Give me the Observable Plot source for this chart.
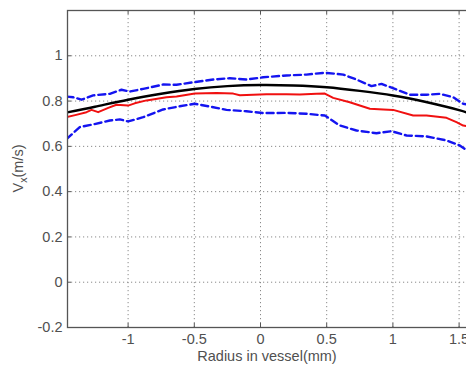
<!DOCTYPE html>
<html>
<head>
<meta charset="utf-8">
<script src="https://cdn.jsdelivr.net/npm/d3@7"></script>
<script src="https://cdn.jsdelivr.net/npm/@observablehq/plot@0.6"></script>
<style>
  html, body { margin: 0; padding: 0; background: #fff; overflow: hidden; }
  #chart svg { display: block; overflow: hidden; max-width: none !important; }
</style>
</head>
<body>
<div id="chart"></div>
<script>
// Velocity profile across the vessel radius: fitted profile, measured mean and its bounds.
const xTicks = [-1, -0.5, 0, 0.5, 1, 1.5];
const xTickLabels = ["-1", "-0.5", "0", "0.5", "1", "1.5"];
const yTicks = [-0.2, 0, 0.2, 0.4, 0.6, 0.8, 1];
const yTickLabels = ["-0.2", "0", "0.2", "0.4", "0.6", "0.8", "1"];

// fitted (black) profile
const rFit = [-1.46, -1.25, -1.0, -0.75, -0.5, -0.25, 0, 0.25, 0.5, 0.75, 1.0, 1.25, 1.5, 1.6];
const vFit = [0.750, 0.775, 0.806, 0.832, 0.853, 0.866, 0.871, 0.869, 0.861, 0.845, 0.825, 0.796, 0.760, 0.740];

// measured mean (red)
const rMean = [-1.465, -1.40, -1.314, -1.276, -1.226, -1.15, -1.088, -1.0, -0.95, -0.861, -0.71, -0.634, -0.496, -0.332, -0.206, -0.156, -0.055, 0.045, 0.196, 0.297, 0.423, 0.486, 0.549, 0.674, 0.826, 0.927, 1.002, 1.153, 1.254, 1.405, 1.480, 1.531, 1.6];
const vMean = [0.729, 0.738, 0.751, 0.761, 0.751, 0.770, 0.784, 0.780, 0.790, 0.803, 0.817, 0.820, 0.833, 0.836, 0.833, 0.826, 0.828, 0.830, 0.830, 0.829, 0.832, 0.833, 0.814, 0.795, 0.766, 0.763, 0.761, 0.736, 0.736, 0.726, 0.707, 0.692, 0.685];

// upper bound (blue dashed)
const rUpper = [-1.465, -1.415, -1.352, -1.264, -1.138, -1.05, -0.987, -0.886, -0.735, -0.634, -0.508, -0.357, -0.232, -0.106, 0.02, 0.196, 0.347, 0.486, 0.625, 0.725, 0.838, 0.914, 1.027, 1.128, 1.254, 1.354, 1.455, 1.531, 1.6];
const vUpper = [0.820, 0.817, 0.806, 0.825, 0.832, 0.850, 0.842, 0.854, 0.873, 0.872, 0.883, 0.895, 0.901, 0.895, 0.905, 0.913, 0.917, 0.925, 0.917, 0.895, 0.866, 0.876, 0.851, 0.828, 0.828, 0.832, 0.817, 0.788, 0.780];

// lower bound (blue dashed)
const rLower = [-1.465, -1.365, -1.264, -1.138, -1.063, -0.999, -0.886, -0.735, -0.610, -0.496, -0.383, -0.257, -0.106, 0.02, 0.196, 0.347, 0.486, 0.599, 0.725, 0.876, 0.989, 1.103, 1.254, 1.405, 1.505, 1.543, 1.6];
const vLower = [0.632, 0.685, 0.697, 0.714, 0.719, 0.710, 0.729, 0.763, 0.777, 0.788, 0.776, 0.761, 0.755, 0.747, 0.748, 0.744, 0.736, 0.692, 0.670, 0.658, 0.667, 0.648, 0.644, 0.626, 0.604, 0.589, 0.580];

const zip = (xs, ys) => xs.map((x, i) => ({x, y: ys[i]}));
const fit = zip(rFit, vFit);
const mean = zip(rMean, vMean);
const upper = zip(rUpper, vUpper);
const lower = zip(rLower, vLower);

const xLabel = new Map(xTicks.map((t, i) => [t, xTickLabels[i]]));
const yLabel = new Map(yTicks.map((t, i) => [t, yTickLabels[i]]));

const W = 476, H = 367, mL = 67, mR = 2, mT = 10, mB = 40;
const innerW = W - mL - mR, innerH = H - mT - mB;
const axisColor = "#555";
const gridStyle = {stroke: "#8a8a8a", strokeOpacity: 1, strokeWidth: 1, strokeDasharray: "1.2,2.8"};
const tickLen = 4;

const chart = Plot.plot({
  width: W,
  height: H,
  marginLeft: mL,
  marginRight: mR,
  marginTop: mT,
  marginBottom: mB,
  style: {fontFamily: "'Liberation Sans', Arial, sans-serif", fontSize: "14.5px", color: "#505050", background: "#fff", maxWidth: "none"},
  x: {domain: [-1.4577, 1.6163], label: null},
  y: {domain: [-0.2, 1.2], label: null},
  marks: [
    Plot.gridX(xTicks, gridStyle),
    Plot.gridY(yTicks, gridStyle),
    Plot.line(lower, {x: "x", y: "y", stroke: "#1414f0", strokeWidth: 2.4, strokeDasharray: "7,4", clip: true}),
    Plot.line(upper, {x: "x", y: "y", stroke: "#1414f0", strokeWidth: 2.4, strokeDasharray: "7,4", clip: true}),
    Plot.line(mean, {x: "x", y: "y", stroke: "#f01010", strokeWidth: 2, clip: true}),
    Plot.line(fit, {x: "x", y: "y", stroke: "#000", strokeWidth: 2.5, curve: "natural", clip: true}),
    // inward tick marks on bottom, top and left edges
    Plot.tickX(xTicks, {x: d => d, stroke: axisColor, insetTop: innerH - tickLen}),
    Plot.tickX(xTicks, {x: d => d, stroke: axisColor, insetBottom: innerH - tickLen}),
    Plot.tickY(yTicks, {y: d => d, stroke: axisColor, insetRight: innerW - tickLen}),
    Plot.axisX(xTicks, {anchor: "bottom", tickSize: 0, tickPadding: 6, tickFormat: d => xLabel.get(d), label: null}),
    Plot.axisY(yTicks, {anchor: "left", tickSize: 0, tickPadding: 5, tickFormat: d => yLabel.get(d), label: null}),
    Plot.text(["Radius in vessel(mm)"], {frameAnchor: "bottom", dx: -4, dy: 33, fontSize: 14.5, fill: "#505050"}),
    Plot.frame({stroke: axisColor, strokeWidth: 1.3})
  ]
});

// y-axis title with subscript
const svg = d3.select(chart);
const yTitle = svg.append("text")
  .attr("transform", `translate(22.5,${mT + innerH / 2}) rotate(-90)`)
  .attr("text-anchor", "middle")
  .attr("fill", "#505050")
  .style("font-family", "'Liberation Sans', Arial, sans-serif")
  .style("font-size", "14.5px");
yTitle.append("tspan").text("V");
yTitle.append("tspan").attr("dy", 4).style("font-size", "10.5px").text("x");
yTitle.append("tspan").attr("dy", -4).text("(m/s)");

document.getElementById("chart").appendChild(chart);
</script>
</body>
</html>
